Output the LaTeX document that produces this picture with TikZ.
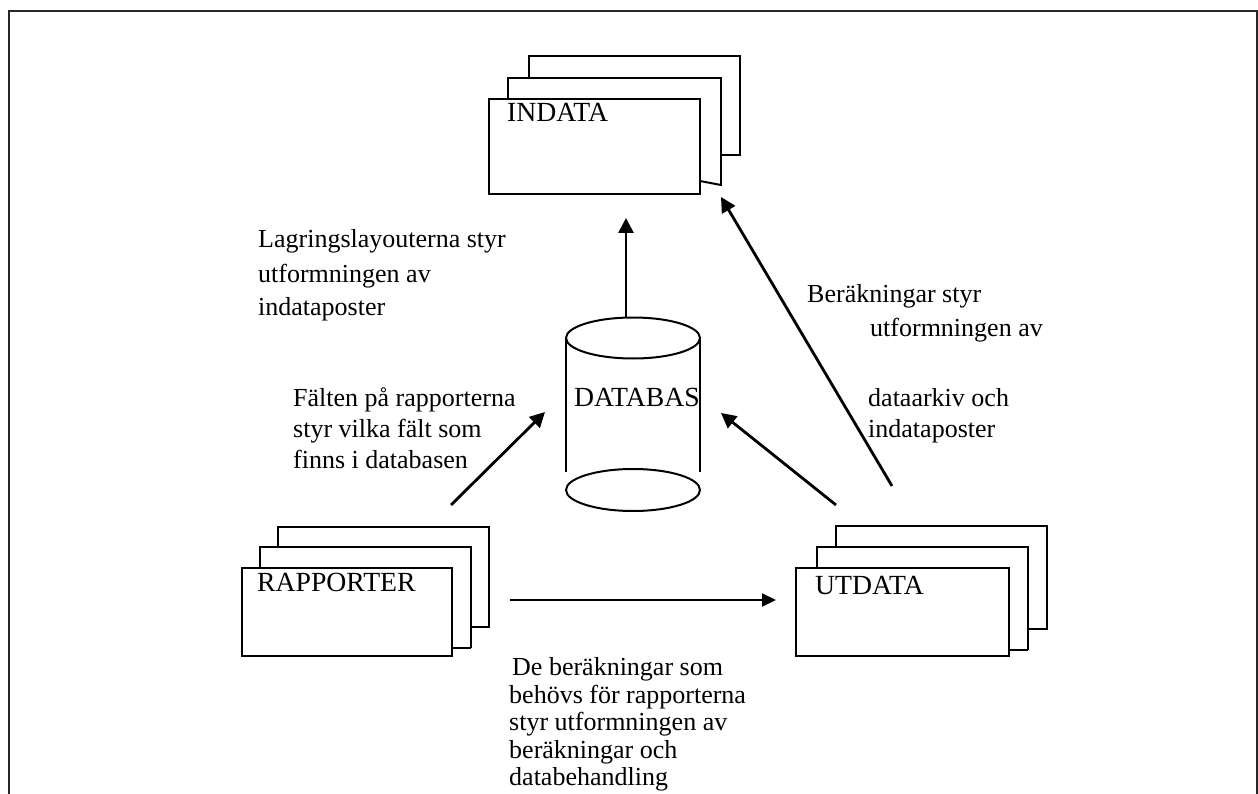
\documentclass[tikz,border=0pt]{standalone}
\usepackage{fontspec}
\setmainfont{Liberation Serif}
\usetikzlibrary{arrows.meta}
\tikzset{
  page/.style={line width=2pt, black},
  frontpage/.style={draw, line width=2pt, inner sep=0pt, fill=white},
  lbl/.style={anchor=base west, inner sep=0pt, font=\fontsize{26}{31}\selectfont},
  caplbl/.style={anchor=base west, inner sep=0pt, font=\fontsize{27.7}{31}\selectfont},
  mlbl/.style={anchor=north west, inner sep=0pt, align=left, font=\fontsize{26}{31}\selectfont},
  thickarrow/.style={line width=2.8pt, -{Triangle[length=15pt,width=15pt]}},
  thinarrow/.style={line width=1.8pt, -{Triangle[length=14pt,width=13pt]}},
  frame/.style={line width=2pt, black!85}
}
\begin{document}
\begin{tikzpicture}[x=1pt,y=-1pt]
\useasboundingbox (0,0) rectangle (1258,794);
% outer frame (no bottom edge)
\draw[frame] (9,794) -- (9,11) -- (1257,11) -- (1257,794);

% INDATA stack
\draw[page] (529,78) -- (529,56) -- (740,56) -- (740,155) -- (721,155);
\draw[page] (508,99) -- (508,78) -- (721,78) -- (721,186);
\draw[page] (700,181) -- (721,185);
\node[frontpage, minimum width=211pt, minimum height=95pt] (indata) at (594.5,146.5) {};
\node[caplbl] (indatatxt) at (507,122) {INDATA};

% RAPPORTER stack
\draw[page] (278,547) -- (278,527) -- (489,527) -- (489,627) -- (471,627);
\draw[page] (260,568) -- (260,547) -- (471,547) -- (471,648);
\draw[page] (452,648) -- (471,648);
\node[frontpage, minimum width=210pt, minimum height=88pt] (rapporter) at (347,612) {};
\node[caplbl] (rapptxt) at (257,591) {RAPPORTER};

% UTDATA stack
\draw[page] (836,547) -- (836,526) -- (1047,526) -- (1047,629) -- (1028,629);
\draw[page] (817,568) -- (817,547) -- (1028,547) -- (1028,650);
\draw[page] (1009,650) -- (1028,650);
\node[frontpage, minimum width=213pt, minimum height=88pt] (utdata) at (902.5,612) {};
\node[caplbl] (utdatatxt) at (815,594) {UTDATA};

% DATABAS cylinder
\coordinate (dbtop) at (633,338);
\draw[page] (566,338) -- (566,472);
\draw[page] (700,338) -- (700,472);
\draw[page] (dbtop) ellipse [x radius=67, y radius=20.5];
\draw[page] (633,490) ellipse [x radius=67, y radius=21];
\node[caplbl] (databas) at (574,406) {DATABAS};

% connectors
\coordinate (dbout) at (626,317);
\coordinate (indatain) at (626,218);
\draw[thickarrow] (dbout) -- (indatain);

\coordinate (rappout) at (451,505);
\coordinate (dbinL) at (545,412);
\draw[thickarrow] (rappout) -- (dbinL);

\coordinate (utdout1) at (836,505);
\coordinate (dbinR) at (721,413);
\draw[thickarrow] (utdout1) -- (dbinR);

\coordinate (utdout2) at (892,486);
\coordinate (indatainR) at (721,197);
\draw[thickarrow] (utdout2) -- (indatainR);

\coordinate (rappoutR) at (510,600);
\coordinate (utdin) at (776,600);
\draw[thinarrow] (rappoutR) -- (utdin);

% labels
\node[lbl] (lag1) at (258,248) {Lagringslayouterna styr};
\node[lbl] (lag2) at (258,283) {utformningen av};
\node[lbl] (lag3) at (258,316) {indataposter};
\node[lbl] (ber1) at (807,302) {Beräkningar styr};
\node[lbl] (ber2) at (870,336) {utformningen av};
\node[mlbl] (ber3) at (868,388) {dataarkiv och\\indataposter};
\node[mlbl] (falt) at (293,387) {Fälten på rapporterna\\styr vilka fält som\\finns i databasen};
\node[lbl] (de1) at (512,675) {De beräkningar som};
\node[mlbl, font=\fontsize{26}{27.5}\selectfont] (de2) at (509,684.7) {behövs för rapporterna\\styr utformningen av\\beräkningar och\\databehandling};
\end{tikzpicture}
\end{document}
